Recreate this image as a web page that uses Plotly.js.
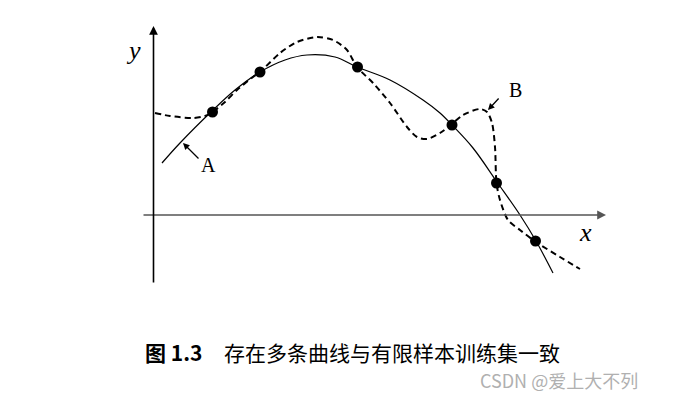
<!DOCTYPE html>
<html>
<head>
<meta charset="utf-8">
<script src="https://cdn.plot.ly/plotly-3.0.1.min.js"></script>
<style>html,body{margin:0;padding:0;background:#fff;}#chart{width:689px;height:395px;}</style>
</head>
<body>
<div id="chart"></div>
<script>
// Curve A (solid)
const curveAx = [0.85, 2.65, 5.85, 8.15, 10.65, 13.15, 15.35, 18.15, 20.35, 23.65, 26.95, 28.65, 29.85, 31.95, 34.35, 36.65, 38.25, 39.95];
const curveAy = [5.2, 7.2, 10.4, 12.5, 14.3, 15.5, 16.0, 15.8, 14.8, 13.5, 11.5, 10.2, 9.0, 6.7, 3.3, 0.0, -2.6, -5.8];
// Curve B (dashed)
const curveBx = [0.15, 1.65, 3.95, 5.15, 5.9, 7.15, 8.35, 9.95, 10.65, 12.65, 14.35, 16.35, 17.95, 19.35, 20.35, 21.95, 23.65, 25.35, 26.35, 27.35, 28.65, 29.85, 30.95, 32.65, 33.35, 33.85, 34.15, 34.3, 34.65, 35.45, 36.65, 38.25, 40.65, 42.65];
const curveBy = [10.2, 9.9, 9.7, 9.9, 10.3, 11.3, 12.5, 13.8, 14.3, 16.2, 17.3, 17.8, 17.5, 16.5, 14.8, 13.2, 11.2, 8.8, 7.8, 7.6, 8.2, 9.1, 10.0, 10.6, 10.3, 9.2, 6.8, 3.2, 1.5, -0.5, -1.5, -2.7, -4.2, -5.4];
// Training samples
const sampleX = [5.9, 10.65, 20.4, 29.85, 34.3, 38.2];
const sampleY = [10.3, 14.3, 14.8, 9.0, 3.2, -2.6];
// Texts
const captionNum = "图 1.3";
const captionText = "存在多条曲线与有限样本训练集一致";
const watermark = "CSDN @爱上大不列";

const traces = [
  {x: curveAx, y: curveAy, mode: 'lines', line: {color: '#000', width: 1.2, shape: 'spline', smoothing: 1}, hoverinfo: 'skip'},
  {x: curveBx, y: curveBy, mode: 'lines', line: {color: '#000', width: 2, dash: '6px,4px', shape: 'spline', smoothing: 0.8}, hoverinfo: 'skip'},
  {x: sampleX, y: sampleY, mode: 'markers', marker: {color: '#000', size: 11}, hoverinfo: 'skip'}
];

const serif = 'Liberation Serif, DejaVu Serif, serif';
function arrow(hx, hy, tx, ty, color, w, size) {
  return {x: hx, y: hy, ax: tx, ay: ty, xref: 'x', yref: 'y', axref: 'x', ayref: 'y',
    text: '', showarrow: true, arrowhead: 2, arrowsize: size, arrowwidth: w, arrowcolor: color};
}

const layout = {
  width: 689, height: 395,
  margin: {l: 0, r: 0, t: 0, b: 0},
  paper_bgcolor: '#fff', plot_bgcolor: '#fff',
  showlegend: false,
  xaxis: {range: [-15.35, 53.55], visible: false, fixedrange: true},
  yaxis: {range: [-18, 21.5], visible: false, fixedrange: true},
  annotations: [
    arrow(45.25, 0, -1.15, 0, '#555', 1.6, 1.1),
    arrow(0, 18.9, 0, -6.9, '#000', 1.6, 1.1),
    arrow(2.95, 7.2, 4.65, 5.5, '#000', 1.3, 1),
    arrow(33.45, 10.5, 34.65, 11.8, '#000', 1.3, 1),
    {x: -2.05, y: 16.5, xref: 'x', yref: 'y', text: '<i>y</i>', showarrow: false, font: {family: serif, size: 26, color: '#000'}},
    {x: 43.15, y: -1.7, xref: 'x', yref: 'y', text: '<i>x</i>', showarrow: false, font: {family: serif, size: 26, color: '#000'}},
    {x: 5.45, y: 5.0, xref: 'x', yref: 'y', text: 'A', showarrow: false, font: {family: serif, size: 20, color: '#000'}},
    {x: 36.15, y: 12.5, xref: 'x', yref: 'y', text: 'B', showarrow: false, font: {family: serif, size: 20, color: '#000'}},
    {x: 143/689, y: 1 - 352/395, xref: 'paper', yref: 'paper', xanchor: 'left', yanchor: 'middle', text: '<b>' + captionNum + '</b>', showarrow: false, font: {family: 'Noto Sans CJK SC', size: 21, color: '#000'}},
    {x: 222/689, y: 1 - 352/395, xref: 'paper', yref: 'paper', xanchor: 'left', yanchor: 'middle', text: captionText, showarrow: false, font: {family: 'Noto Sans CJK SC', size: 21, color: '#000'}},
    {x: 478/689, y: 1 - 380/395, xref: 'paper', yref: 'paper', xanchor: 'left', yanchor: 'middle', text: watermark, showarrow: false, font: {family: 'Noto Sans CJK SC', size: 18, color: '#b0b0b0'}}
  ]
};

Plotly.newPlot('chart', traces, layout, {staticPlot: true, displayModeBar: false});
</script>
</body>
</html>
